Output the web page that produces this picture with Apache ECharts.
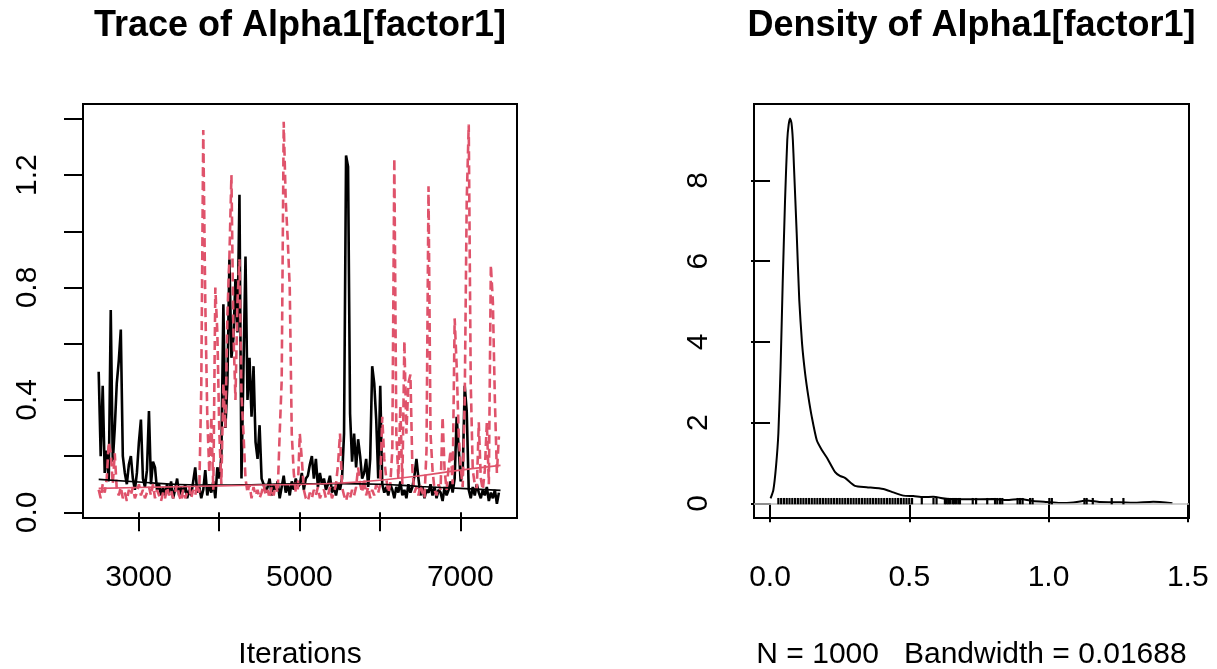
<!DOCTYPE html>
<html>
<head>
<meta charset="utf-8">
<title>Trace / Density of Alpha1[factor1]</title>
<script src="https://cdn.jsdelivr.net/npm/echarts@6.0.0/dist/echarts.min.js"></script>
<style>
html, body { margin: 0; padding: 0; background: #fff; }
#main { width: 1217px; height: 669px; }
</style>
</head>
<body>
<div id="main"></div>
<script type="text/javascript">
"use strict";

// iterations of the kept samples (thinned)
var iterStart = 2505;
var iterThin = 25;

// chain 1 (black, solid), one row = 100 iterations
var chain1 = [
	0.50, 0.20, 0.45, 0.14,
	0.22, 0.11, 0.72, 0.18,
	0.30, 0.46, 0.54, 0.65,
	0.20, 0.14, 0.10, 0.17,
	0.20, 0.12, 0.08, 0.14,
	0.25, 0.33, 0.12, 0.09,
	0.15, 0.36, 0.10, 0.18,
	0.16, 0.08, 0.10, 0.06,
	0.09, 0.06, 0.10, 0.07,
	0.11, 0.05, 0.08, 0.12,
	0.06, 0.09, 0.07, 0.10,
	0.05, 0.08, 0.06, 0.11,
	0.16, 0.07, 0.09, 0.05,
	0.08, 0.15, 0.06, 0.10,
	0.07, 0.11, 0.05, 0.16,
	0.12, 0.20, 0.74, 0.30,
	0.46, 0.90, 0.55, 0.62,
	0.83, 0.64, 1.13, 0.12,
	0.52, 0.91, 0.40, 0.55,
	0.34, 0.52, 0.25, 0.19,
	0.31, 0.12, 0.10, 0.07,
	0.09, 0.12, 0.06, 0.10,
	0.08, 0.11, 0.05, 0.09,
	0.13, 0.07, 0.10, 0.06,
	0.11, 0.08, 0.12, 0.09,
	0.10, 0.14, 0.08, 0.12,
	0.13, 0.17, 0.20, 0.12,
	0.19, 0.09, 0.14, 0.10,
	0.12, 0.08, 0.10, 0.13,
	0.07, 0.09, 0.06, 0.10,
	0.08, 0.12, 0.28, 1.27,
	1.23, 0.35, 0.18, 0.28,
	0.16, 0.26, 0.20, 0.12,
	0.14, 0.19, 0.09, 0.19,
	0.52, 0.46, 0.33, 0.12,
	0.45, 0.10, 0.07, 0.09,
	0.06, 0.10, 0.08, 0.05,
	0.09, 0.07, 0.11, 0.06,
	0.08, 0.05, 0.10, 0.07,
	0.09, 0.13, 0.19, 0.12,
	0.06, 0.09, 0.05, 0.08,
	0.07, 0.10, 0.06, 0.09,
	0.05, 0.08, 0.07, 0.04,
	0.09, 0.06, 0.08, 0.11,
	0.07, 0.12, 0.34, 0.23,
	0.11, 0.14, 0.45, 0.36,
	0.08, 0.05, 0.09, 0.06,
	0.10, 0.07, 0.05, 0.08,
	0.06, 0.09, 0.04, 0.07,
	0.05, 0.08, 0.03, 0.07
];

// chain 2 (red, dashed)
var chain2 = [
	0.08, 0.05, 0.10, 0.07,
	0.12, 0.25, 0.21, 0.10,
	0.21, 0.08, 0.06, 0.09,
	0.05, 0.07, 0.04, 0.08,
	0.06, 0.09, 0.05, 0.07,
	0.10, 0.06, 0.08, 0.05,
	0.07, 0.09, 0.06, 0.10,
	0.05, 0.08, 0.06, 0.04,
	0.07, 0.05, 0.09, 0.06,
	0.08, 0.05, 0.07, 0.10,
	0.06, 0.04, 0.08, 0.05,
	0.07, 0.09, 0.05, 0.08,
	0.06, 0.10, 0.07, 0.44,
	1.36, 0.75, 0.34, 0.14,
	0.34, 0.08, 0.80, 0.64,
	0.28, 0.10, 0.46, 0.30,
	0.70, 0.91, 1.20, 0.64,
	0.40, 0.75, 0.90, 0.42,
	0.28, 0.12, 0.07, 0.10,
	0.05, 0.09, 0.06, 0.08,
	0.05, 0.07, 0.10, 0.06,
	0.08, 0.05, 0.09, 0.06,
	0.10, 0.07, 0.28, 0.47,
	1.39, 1.11, 0.97, 0.80,
	0.28, 0.14, 0.07, 0.08,
	0.28, 0.19, 0.08, 0.05,
	0.04, 0.07, 0.05, 0.08,
	0.06, 0.09, 0.05, 0.07,
	0.08, 0.05, 0.06, 0.09,
	0.05, 0.07, 0.10, 0.17,
	0.28, 0.09, 0.06, 0.04,
	0.07, 0.05, 0.08, 0.06,
	0.09, 0.16, 0.10, 0.07,
	0.12, 0.06, 0.09, 0.05,
	0.08, 0.06, 0.10, 0.07,
	0.10, 0.34, 0.19, 0.12,
	0.07, 0.10, 0.22, 1.26,
	0.28, 0.12, 0.38, 0.10,
	0.61, 0.28, 0.46, 0.49,
	0.15, 0.07, 0.09, 0.06,
	0.10, 0.07, 0.05, 0.22,
	1.16, 0.28, 0.15, 0.08,
	0.06, 0.10, 0.08, 0.34,
	0.15, 0.08, 0.16, 0.22,
	0.10, 0.69, 0.52, 0.28,
	0.16, 0.09, 0.40, 1.11,
	1.38, 0.46, 0.15, 0.10,
	0.08, 0.32, 0.12, 0.08,
	0.15, 0.32, 0.10, 0.88,
	0.75, 0.40, 0.14, 0.27
];

// smoothed (lowess) lines of both chains
var smooth1 = [[2505, 0.117], [3000, 0.108], [3500, 0.099], [4000, 0.097], [4500, 0.099],
	[5000, 0.101], [5500, 0.102], [6000, 0.100], [6500, 0.092], [7000, 0.085], [7500, 0.078]];
var smooth2 = [[2505, 0.085], [3000, 0.088], [3500, 0.091], [4000, 0.094], [4500, 0.097],
	[5000, 0.099], [5500, 0.104], [6000, 0.114], [6500, 0.130], [7000, 0.150], [7500, 0.167]];

// kernel density of the pooled draws
var densX = [0.002, 0.012, 0.0215, 0.030, 0.038, 0.0455, 0.054, 0.062, 0.067, 0.072, 0.077,
	0.082, 0.086, 0.0958, 0.105, 0.115, 0.126, 0.138, 0.150, 0.168, 0.186, 0.206, 0.233,
	0.251, 0.269, 0.305, 0.347, 0.407, 0.443, 0.479, 0.515, 0.550, 0.586, 0.634, 0.706,
	0.802, 0.850, 0.898, 0.945, 0.994, 1.041, 1.089, 1.137, 1.185, 1.257, 1.305, 1.376, 1.445];
var densY = [0.12, 0.33, 0.91, 1.73, 3.38, 5.45, 7.51, 9.00, 9.38, 9.53, 9.42,
	9.00, 8.34, 6.69, 5.04, 3.96, 3.22, 2.63, 2.14, 1.56, 1.32, 1.11, 0.78,
	0.68, 0.63, 0.43, 0.40, 0.355, 0.27, 0.19, 0.18, 0.155, 0.16, 0.11, 0.10,
	0.105, 0.08, 0.105, 0.057, 0.03, 0.005, 0.02, 0.07, 0.03, 0.025, 0.015, 0.04, 0.003];

// positions of the observation marks under the curve
var rugX = [0.03, 0.04, 0.05, 0.06, 0.07, 0.08, 0.09, 0.10, 0.11, 0.12, 0.13, 0.14, 0.15,
	0.16, 0.17, 0.18, 0.19, 0.20, 0.21, 0.22, 0.23, 0.24, 0.25, 0.26, 0.27, 0.28, 0.29,
	0.30, 0.31, 0.32, 0.33, 0.34, 0.35, 0.36, 0.37, 0.38, 0.39, 0.40, 0.41, 0.42, 0.43,
	0.44, 0.45, 0.46, 0.47, 0.48, 0.49, 0.50, 0.51, 0.545, 0.587, 0.598, 0.628, 0.634,
	0.640, 0.646, 0.655, 0.661, 0.668, 0.676, 0.682, 0.728, 0.740, 0.780, 0.808, 0.816,
	0.826, 0.834, 0.889, 0.898, 0.907, 0.934, 0.943, 1.003, 1.012, 1.129, 1.137, 1.159,
	1.227, 1.269];
var rugHeight = 0.095;

var traceTicksX = [3000, 4000, 5000, 6000, 7000];
var traceLabelsX = [3000, 5000, 7000];
var traceTicksY = [0, 0.2, 0.4, 0.6, 0.8, 1.0, 1.2, 1.4];
var traceLabelsY = [0, 0.4, 0.8, 1.2];
var densTicksX = [0, 0.5, 1.0, 1.5];
var densTicksY = [0, 2, 4, 6, 8];

var FONT = '"Liberation Sans", Arial, Helvetica, sans-serif';
var RED = "#DF536B";

function toPairs(values) {
	return values.map(function(v, i) {
		return [iterStart + i * iterThin, v];
	});
}

function makeXAxis(grid, min, max, ticks, labels, fmt) {
	return {
		gridIndex : grid,
		type : "value",
		min : min,
		max : max,
		axisLine : { show : false },
		splitLine : { show : false },
		axisTick : {
			show : true,
			customValues : ticks,
			length : 19,
			lineStyle : { color : "#000", width : 2 }
		},
		axisLabel : {
			customValues : labels,
			color : "#000",
			fontSize : 30,
			fontFamily : FONT,
			margin : 45,
			formatter : fmt
		}
	};
}

function makeYAxis(grid, min, max, ticks, labels, fmt) {
	return {
		gridIndex : grid,
		type : "value",
		min : min,
		max : max,
		axisLine : { show : false },
		splitLine : { show : false },
		axisTick : {
			show : true,
			customValues : ticks,
			length : 19,
			lineStyle : { color : "#000", width : 2 }
		},
		axisLabel : {
			customValues : labels,
			rotate : 90,
			color : "#000",
			fontSize : 30,
			fontFamily : FONT,
			margin : 40,
			formatter : fmt
		}
	};
}

function oneDecimal(v) {
	return Number(v).toFixed(1);
}

var chart = echarts.init(document.getElementById("main"));

var option = {
	animation : false,
	backgroundColor : "#fff",
	textStyle : { fontFamily : FONT },
	grid : [
		{ left : 83, top : 104, width : 434, height : 414, show : true,
			borderColor : "#000", borderWidth : 2, backgroundColor : "transparent" },
		{ left : 754, top : 104, width : 435, height : 414, show : true,
			borderColor : "#000", borderWidth : 2, backgroundColor : "transparent" }
	],
	xAxis : [
		makeXAxis(0, 2310, 7705, traceTicksX, traceLabelsX, function(v) { return String(v); }),
		makeXAxis(1, -0.0575, 1.5045, densTicksX, densTicksX, oneDecimal)
	],
	yAxis : [
		makeYAxis(0, -0.0203, 1.453, traceTicksY, traceLabelsY, oneDecimal),
		makeYAxis(1, -0.364, 9.89, densTicksY, densTicksY, function(v) { return String(v); })
	],
	graphic : [
		{ type : "text", x : 300, y : 26,
			style : { text : "Trace of Alpha1[factor1]", font : "bold 36px " + FONT,
				fill : "#000", align : "center", verticalAlign : "middle",
				textAlign : "center", textVerticalAlign : "middle" } },
		{ type : "text", x : 971.5, y : 26,
			style : { text : "Density of Alpha1[factor1]", font : "bold 36px " + FONT,
				fill : "#000", align : "center", verticalAlign : "middle",
				textAlign : "center", textVerticalAlign : "middle" } },
		{ type : "text", x : 300, y : 655,
			style : { text : "Iterations", font : "30px " + FONT,
				fill : "#000", align : "center", verticalAlign : "middle",
				textAlign : "center", textVerticalAlign : "middle" } },
		{ type : "text", x : 971.5, y : 655,
			style : { text : "N = 1000   Bandwidth = 0.01688", font : "30px " + FONT,
				fill : "#000", align : "center", verticalAlign : "middle",
				textAlign : "center", textVerticalAlign : "middle" } }
	],
	series : [
		{
			name : "chain1",
			type : "line",
			xAxisIndex : 0,
			yAxisIndex : 0,
			data : toPairs(chain1),
			showSymbol : false,
			lineStyle : { color : "#000", width : 2.6 },
			z : 2
		},
		{
			name : "chain2",
			type : "line",
			xAxisIndex : 0,
			yAxisIndex : 0,
			data : toPairs(chain2),
			showSymbol : false,
			lineStyle : { color : RED, width : 2.6, type : [9, 5] },
			z : 3
		},
		{
			name : "smooth1",
			type : "line",
			xAxisIndex : 0,
			yAxisIndex : 0,
			data : smooth1,
			smooth : true,
			showSymbol : false,
			lineStyle : { color : "#000", width : 1.6 },
			z : 4
		},
		{
			name : "smooth2",
			type : "line",
			xAxisIndex : 0,
			yAxisIndex : 0,
			data : smooth2,
			smooth : true,
			showSymbol : false,
			lineStyle : { color : RED, width : 1.6 },
			z : 5
		},
		{
			name : "density",
			type : "line",
			xAxisIndex : 1,
			yAxisIndex : 1,
			data : densX.map(function(x, i) { return [x, densY[i]]; }),
			smooth : 0.2,
			showSymbol : false,
			lineStyle : { color : "#000", width : 2 },
			markLine : {
				silent : true,
				symbol : ["none", "none"],
				label : { show : false },
				lineStyle : { color : "#bebebe", width : 1.5, type : "solid" },
				data : [ { yAxis : 0 } ]
			},
			z : 2
		},
		{
			name : "obs",
			type : "custom",
			xAxisIndex : 1,
			yAxisIndex : 1,
			data : rugX.map(function(x) { return [x, rugHeight]; }),
			renderItem : function(params, api) {
				var p0 = api.coord([api.value(0), 0]);
				var p1 = api.coord([api.value(0), api.value(1)]);
				return {
					type : "line",
					shape : { x1 : p0[0], y1 : p0[1] + 1, x2 : p1[0], y2 : p1[1] - 1.5 },
					style : { stroke : "#000", lineWidth : 2.2 }
				};
			},
			z : 6
		}
	]
};

chart.setOption(option);
</script>
</body>
</html>
